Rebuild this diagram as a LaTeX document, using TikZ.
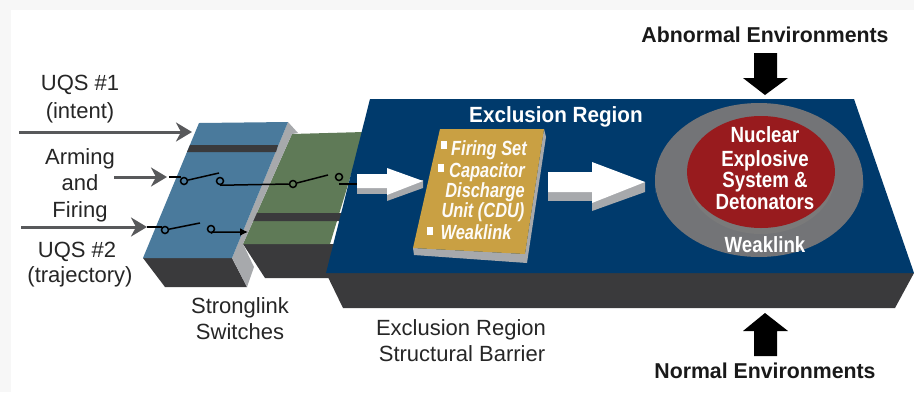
\documentclass[tikz,border=0pt]{standalone}
\usepackage{fontspec}
\setmainfont{Liberation Sans}
\usetikzlibrary{arrows.meta}
\definecolor{navy}{HTML}{003A6C}
\definecolor{dark}{HTML}{3A3A3C}
\definecolor{sideg}{HTML}{A7A9AC}
\definecolor{steel}{HTML}{4A7A9C}
\definecolor{moss}{HTML}{5F7A57}
\definecolor{gold}{HTML}{C9A043}
\definecolor{ring}{HTML}{737477}
\definecolor{redc}{HTML}{981B1E}
\definecolor{arrowg}{HTML}{58595B}
\tikzset{
 lbl/.style={font=\fontsize{22}{24}\selectfont,text=black!85,inner sep=0pt,anchor=base,xscale=1,transform shape},
 head/.style={font=\fontsize{21.5}{24}\selectfont\bfseries,text=black!90,inner sep=0pt,anchor=base,xscale=.99,transform shape},
 inlbl/.style={font=\fontsize{22}{24}\selectfont\bfseries,text=white,inner sep=0pt,anchor=base,xscale=.85,transform shape},
 titlelbl/.style={font=\fontsize{22}{24}\selectfont\bfseries,text=white,inner sep=0pt,anchor=base,xscale=.94,transform shape},
 cdu/.style={font=\fontsize{20.5}{22}\selectfont\bfseries\itshape,text=white!96!gold,inner sep=0pt,anchor=base,xscale=.8,transform shape},
 bul/.style={fill=white,minimum width=6.5pt,minimum height=8pt,inner sep=0pt},
 pin/.style={circle,draw=black,line width=1.5pt,fill=none,minimum size=7pt,inner sep=0pt},
 wire/.style={black,line width=1.5pt},
 feed/.style={arrowg,line width=3pt,-{Stealth[length=16pt,width=19pt,inset=5pt]}},
}
\begin{document}
\begin{tikzpicture}[x=1pt,y=-1pt]
\useasboundingbox (0,0) rectangle (914,392);
\fill[black!3] (0,0) rectangle (914,392);
\fill[white] (11,10) rectangle (914,392);
% green module
\fill[dark] (243,244) -- (340,244) -- (340,278) -- (265,278) -- cycle;
\fill[moss] (292,134) -- (364,132) -- (330,244) -- (243,244) -- cycle;
\fill[dark] (255,213) -- (345,213) -- (342,221) -- (252,221) -- cycle;
% blue module
\fill[dark] (143,258) -- (232,258) -- (247,287) -- (165,287) -- cycle;
\fill[sideg] (288,122) -- (298,133) -- (292,134) -- (243,244) -- (254,267) -- (247,287) -- (232,258) -- cycle;
\fill[steel] (199,123) -- (288,122) -- (232,258) -- (143,258) -- cycle;
\fill[dark] (190,145) -- (278,145) -- (276,152) -- (187,152) -- cycle;
% base plate
\fill[dark] (326,273) -- (914,273) -- (895,308) -- (343,308) -- cycle;
\fill[navy] (370,99) -- (854,99) -- (914,273) -- (326,273) -- cycle;
% CDU
\fill[sideg] (413,248) -- (525,254) -- (544,129) -- (546,137) -- (527,263) -- (414,255) -- cycle;
\fill[gold] (440,129) -- (544,129) -- (525,254) -- (413,248) -- cycle;
% white arrows
\fill[sideg] (357,180) -- (387,180) -- (387,201) -- (423,188) -- (423,180) -- cycle;
\fill[sideg] (357,188) -- (357,194) -- (387,194) -- (387,188) -- cycle;
\fill[white] (357,174) -- (387,174) -- (387,168) -- (423,181) -- (387,195) -- (387,188) -- (357,188) -- cycle;
\fill[sideg] (548,180) -- (592,180) -- (592,211) -- (645,192) -- (645,182) -- cycle;
\fill[sideg] (548,190) -- (548,201) -- (592,201) -- (592,190) -- cycle;
\fill[white] (548,172) -- (592,172) -- (592,162) -- (645,182) -- (592,203) -- (592,192) -- (548,192) -- cycle;
% ring
\fill[sideg] (655,180) -- (655,193) arc[start angle=180,end angle=360,x radius=104,y radius=78] -- (863,180) -- cycle;
\fill[ring] (759,180) ellipse[x radius=104,y radius=77];
\fill[black!52] (761,176) ellipse[x radius=74,y radius=58];
\fill[redc] (761,172) ellipse[x radius=74,y radius=56];
% black arrows
\fill[black] (754,53) -- (777,53) -- (777,78) -- (788,78) -- (765,95) -- (743,78) -- (754,78) -- cycle;
\fill[black] (754,356) -- (777,356) -- (777,331) -- (788,331) -- (765,313) -- (743,331) -- (754,331) -- cycle;
% feed arrows
\coordinate (f1s) at (19,132); \coordinate (f1e) at (192,132);
\coordinate (f2s) at (114,177); \coordinate (f2e) at (167,177);
\coordinate (f3s) at (21,227); \coordinate (f3e) at (147,227);
\draw[feed] (f1s) -- (f1e);
\draw[feed] (f2s) -- (f2e);
\draw[feed] (f3s) -- (f3e);
% switches
\node[pin] (a1) at (184,181) {};
\node[pin] (a2) at (220,181) {};
\node[pin] (b1) at (293,184) {};
\node[pin] (b2) at (339,177) {};
\node[pin] (c1) at (165,230) {};
\node[pin] (c2) at (211,229) {};
\coordinate (a0) at (169,177); \coordinate (a0b) at (181,177);
\coordinate (at) at (219,173); \coordinate (bt) at (328,175); \coordinate (ct) at (200,223);
\coordinate (bo) at (339,184); \coordinate (boe) at (357,184);
\coordinate (c0) at (147,227);
\coordinate (ce) at (248,232);
\draw[wire,line width=2pt] (a0) -- (a0b);
\draw[wire] (a1) -- (at);
\draw[wire] (a2.south) -- (b1.west);
\draw[wire] (b1) -- (bt);
\draw[wire] (bo) -- (boe);
\draw[wire] (c0) -- (162,227);
\draw[wire] (c1) -- (ct);
\draw[wire,-{Latex[length=8pt,width=8pt]}] (c2.south) -- (213,232) -- (ce);
% labels
\node[lbl] (t1) at (80,90) {UQS \#1};
\node[lbl] (t2) at (80,118) {(intent)};
\node[lbl] (t3) at (80,164) {Arming};
\node[lbl] (t4) at (80,190) {and};
\node[lbl] (t5) at (80,217) {Firing};
\node[lbl] (t6) at (77,257) {UQS \#2};
\node[lbl] (t7) at (80,282) {(trajectory)};
\node[lbl] (t8) at (240,313) {Stronglink};
\node[lbl] (t9) at (240,339) {Switches};
\node[lbl] (t10) at (461,335) {Exclusion Region};
\node[lbl] (t11) at (462,361) {Structural Barrier};
\node[head] (t12) at (765,42) {Abnormal Environments};
\node[head] (t13) at (765,378) {Normal Environments};
\node[titlelbl] (t14) at (556,122) {Exclusion Region};
\node[inlbl] (n1) at (765,142) {Nuclear};
\node[inlbl] (n2) at (765,166) {Explosive};
\node[inlbl] (n3) at (765,187) {System \&};
\node[inlbl] (n4) at (765,209) {Detonators};
\node[inlbl] (n5) at (765,252) {Weaklink};
\node[cdu] (c1t) at (489,155) {Firing Set};
\node[cdu] (c2t) at (487,177) {Capacitor};
\node[cdu] (c3t) at (485,197) {Discharge};
\node[cdu] (c4t) at (483,217) {Unit (CDU)};
\node[cdu] (c5t) at (476,239) {Weaklink};
\node[bul] (b1s) at (444,145) {};
\node[bul] (b2s) at (441,168) {};
\node[bul] (b3s) at (430,231) {};
\end{tikzpicture}
\end{document}
